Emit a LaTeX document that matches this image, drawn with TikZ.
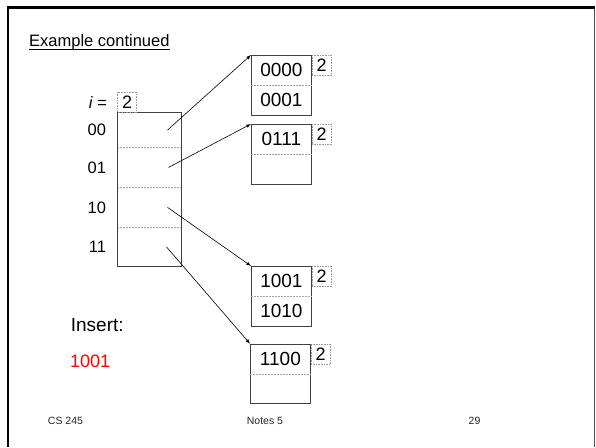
\documentclass[tikz,border=0pt]{standalone}
\usepackage{fontspec}
\setmainfont{Liberation Sans}
\usetikzlibrary{positioning}

\tikzset{
  bucket/.style={draw=black!75, line width=0.8pt, minimum width=60pt, minimum height=59.5pt, inner sep=0pt},
  key/.style={font=\fontsize{19}{20}\selectfont, minimum width=60pt, minimum height=29.75pt, inner sep=0pt},
  slotline/.style={draw=black!35, line width=0.6pt, dash pattern=on 2pt off 1pt},
  depthbox/.style={draw=black!40, densely dotted, line width=0.6pt, minimum width=19pt, minimum height=20pt, inner sep=0pt, font=\fontsize{18}{18}\selectfont},
  cell/.style={minimum width=64pt, inner sep=0pt},
  lbl/.style={font=\fontsize{16.5}{18}\selectfont, inner sep=0pt},
  foot/.style={font=\fontsize{10.5}{12}\selectfont, inner sep=0pt, text=black!85},
  ptr/.style={->, >=latex, line width=0.6pt},
}

\begin{document}
\begin{tikzpicture}[x=1pt, y=-1pt]
  \useasboundingbox (0,0) rectangle (596,447);

  % slide frame
  \draw[line width=2.4pt] (8,447) -- (8,7.5) -- (594.5,7.5);
  \draw[black!70, line width=1pt] (594.5,8.5) -- (594.5,447);

  \node[anchor=base west, inner sep=0pt, font=\fontsize{16.5}{18}\selectfont] (title) at (29,46) {Example continued};
  \draw[line width=1.1pt] ([yshift=-3.5pt]title.base west) -- ([yshift=-3.5pt]title.base east);

  % directory, global depth 2
  \node[cell, minimum height=34.3pt, anchor=north west] (d00) at (117.3,112.7) {};
  \node[cell, minimum height=39.7pt, below=0pt of d00] (d01) {};
  \node[cell, minimum height=39.3pt, below=0pt of d01] (d10) {};
  \node[cell, minimum height=39pt, below=0pt of d10] (d11) {};
  \draw[slotline] (d00.south west) -- (d00.south east);
  \draw[slotline] (d01.south west) -- (d01.south east);
  \draw[slotline] (d10.south west) -- (d10.south east);
  \draw[black!75, line width=0.8pt] (d00.north west) rectangle (d11.south east);

  \node[depthbox, anchor=south west] (gd) at (d00.north west) {2};
  \node[lbl, left=10pt of gd.west] (ieq) {\textit{i} =};

  \node[lbl, left=11pt of d00.west] (l00) {00};
  \node[lbl, left=11pt of d01.west] (l01) {01};
  \node[lbl, left=11pt of d10.west] (l10) {10};
  \node[lbl, left=11pt of d11.west] (l11) {11};

  % buckets with local depth
  \node[bucket, anchor=north west] (b1) at (251,55) {};
  \node[bucket, anchor=north west] (b2) at (251,124) {};
  \node[bucket, anchor=north west] (b3) at (251,266) {};
  \node[bucket, anchor=north west] (b4) at (250,343.7) {};
  \foreach \b/\ka/\kb in {b1/0000/0001, b2/0111/, b3/1001/1010, b4/1100/} {
    \draw[slotline] (\b.west) -- (\b.east);
    \node[key, below=0pt of \b.north] (\b-hi) {\ka};
    \node[key, above=0pt of \b.south] (\b-lo) {\kb};
    \node[depthbox, anchor=north west] (\b-d) at (\b.north east) {2};
  }

  \draw[ptr] ([xshift=18pt]d00.center) -- (b1.north west);
  \draw[ptr] ([xshift=19pt]d01.center) -- (b2.north west);
  \draw[ptr] ([xshift=18pt]d10.center) -- (b3.north west);
  \draw[ptr] ([xshift=17pt]d11.center) -- (b4.north west);

  \node[anchor=base west, inner sep=0pt, font=\fontsize{19}{21}\selectfont] (ins) at (70.7,331.7) {Insert:};
  \node[anchor=base west, inner sep=0pt, font=\fontsize{18}{20}\selectfont, text=red] (newkey) at (70,367) {1001};

  \node[foot] (course) at (65.5,421) {CS 245};
  \node[foot] (notes) at (265,421) {Notes 5};
  \node[foot] (page) at (474.5,421) {29};
\end{tikzpicture}
\end{document}
